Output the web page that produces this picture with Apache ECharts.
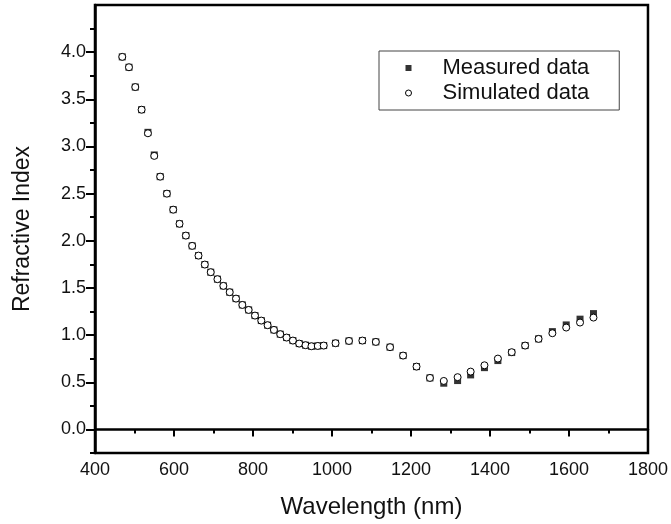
<!DOCTYPE html>
<html>
<head>
<meta charset="utf-8">
<script src="https://cdn.jsdelivr.net/npm/echarts@6/dist/echarts.min.js"></script>
<style>
html,body{margin:0;padding:0;background:#fff;}
#chart{width:671px;height:524px;}
</style>
</head>
<body>
<div id="chart"></div>
<script>
const wavelength = [469, 486, 502, 518, 534, 550, 565, 582, 598, 614, 630, 646, 662, 678, 693, 710, 725, 741, 757, 773, 789, 805, 821, 837, 853, 869, 885, 901, 917, 933, 948, 964, 979, 1009, 1043, 1077, 1111, 1147, 1180, 1214, 1248, 1283, 1318, 1351, 1386, 1420, 1455, 1489, 1523, 1558, 1593, 1628, 1662];
const simulated = [3.95, 3.84, 3.63, 3.39, 3.14, 2.90, 2.68, 2.50, 2.33, 2.18, 2.055, 1.946, 1.843, 1.748, 1.667, 1.593, 1.522, 1.455, 1.387, 1.32, 1.267, 1.207, 1.154, 1.105, 1.055, 1.01, 0.974, 0.942, 0.91, 0.893, 0.882, 0.885, 0.889, 0.914, 0.938, 0.942, 0.928, 0.872, 0.783, 0.666, 0.546, 0.514, 0.554, 0.613, 0.68, 0.751, 0.819, 0.889, 0.96, 1.02, 1.08, 1.133, 1.186];
const measured = [3.95, 3.84, 3.63, 3.39, 3.15, 2.91, 2.68, 2.50, 2.33, 2.18, 2.055, 1.946, 1.843, 1.748, 1.667, 1.593, 1.522, 1.455, 1.387, 1.32, 1.267, 1.207, 1.154, 1.105, 1.055, 1.01, 0.974, 0.942, 0.91, 0.893, 0.882, 0.885, 0.889, 0.914, 0.938, 0.942, 0.928, 0.872, 0.783, 0.666, 0.546, 0.49, 0.518, 0.578, 0.655, 0.73, 0.815, 0.889, 0.96, 1.037, 1.108, 1.169, 1.228];
const yTickLabels = [0, 0.5, 1, 1.5, 2, 2.5, 3, 3.5, 4];
const yMinorTicks = [-0.25, 0.25, 0.75, 1.25, 1.75, 2.25, 2.75, 3.25, 3.75, 4.25];
const xTicks = [400, 600, 800, 1000, 1200, 1400, 1600, 1800];

const FONT = 'Liberation Sans, Arial, sans-serif';
const chart = echarts.init(document.getElementById('chart'), null, {renderer: 'canvas'});

const pairs = (ys) => wavelength.map((x, i) => [x, ys[i]]);

chart.setOption({
  animation: false,
  backgroundColor: '#fff',
  grid: {left: 95, right: 21, top: 5, bottom: 71, show: true, borderColor: '#000', borderWidth: 2.5, backgroundColor: 'transparent'},
  legend: {
    orient: 'vertical',
    left: 379, top: 51,
    borderColor: '#444', borderWidth: 1,
    padding: [6, 30, 6, 26],
    itemGap: 3,
    itemWidth: 6, itemHeight: 6,
    textStyle: {fontFamily: FONT, fontSize: 22, color: '#111', padding: [0, 0, 0, 26]},
    data: [
      {name: 'Measured data', icon: 'rect', itemStyle: {color: '#000', borderWidth: 0}},
      {name: 'Simulated data', icon: 'circle', itemStyle: {color: '#fff', borderColor: '#000', borderWidth: 1}}
    ]
  },
  xAxis: {
    type: 'value', min: 400, max: 1800, interval: 200,
    name: 'Wavelength (nm)', nameLocation: 'middle', nameGap: 42,
    nameTextStyle: {fontFamily: FONT, fontSize: 24, color: '#111'},
    axisLine: {show: true, lineStyle: {color: '#000', width: 2.5}},
    axisTick: {show: true, length: 7, lineStyle: {color: '#000', width: 2}},
    minorTick: {show: true, splitNumber: 2, length: 4, lineStyle: {color: '#000', width: 2}},
    axisLabel: {fontFamily: FONT, fontSize: 18, color: '#111', margin: 8, formatter: v => String(v)},
    splitLine: {show: false}
  },
  yAxis: [{
    type: 'value', min: -0.25, max: 4.5,
    name: 'Refractive Index', nameLocation: 'middle', nameGap: 61,
    nameTextStyle: {fontFamily: FONT, fontSize: 23, color: '#111'},
    axisLine: {show: true, lineStyle: {color: '#000', width: 2.5}},
    axisTick: {show: true, length: 9, customValues: yTickLabels, lineStyle: {color: '#000', width: 2}},
    axisLabel: {fontFamily: FONT, fontSize: 18, color: '#111', margin: 9, customValues: yTickLabels,
      formatter: v => v.toFixed(1)},
    splitLine: {show: false}
  }, {
    type: 'value', min: -0.25, max: 4.5, position: 'left',
    axisLine: {show: false},
    axisTick: {show: true, length: 5, customValues: yMinorTicks, lineStyle: {color: '#000', width: 2}},
    axisLabel: {show: false},
    splitLine: {show: false}
  }],
  series: [{
    name: 'Measured data', type: 'scatter', symbol: 'rect', symbolSize: 7,
    itemStyle: {color: '#000'},
    data: pairs(measured), z: 2
  }, {
    name: 'Simulated data', type: 'scatter', symbol: 'circle', symbolSize: 7,
    itemStyle: {color: '#fff', borderColor: '#000', borderWidth: 1, opacity: 1},
    data: pairs(simulated), z: 3
  }]
});
</script>
</body>
</html>
